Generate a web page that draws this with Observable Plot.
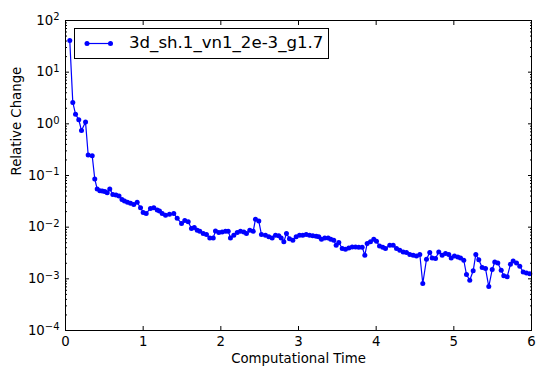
<!DOCTYPE html>
<html><head><meta charset="utf-8">
<script src="https://cdn.jsdelivr.net/npm/d3@7"></script>
<script src="https://cdn.jsdelivr.net/npm/@observablehq/plot@0.6"></script>
<style>
body{margin:0;background:#fff;}
#wrap{position:relative;width:545px;height:380px;font-family:"DejaVu Sans",sans-serif;}
#legend{position:absolute;left:74px;top:28px;width:255px;height:31px;border:1px solid #000;background:#fff;box-sizing:border-box;}
#legend svg{position:absolute;left:0;top:0;}
#legend span{position:absolute;left:54px;top:3px;font-size:16.6px;line-height:22px;color:#000;white-space:nowrap;}
</style></head><body><div id="wrap"></div>
<script>
const seriesName = "3d_sh.1_vn1_2e-3_g1.7";
const xLabel = "Computational Time";
const yLabel = "Relative Change";
const xTicks = [0, 1, 2, 3, 4, 5, 6];
const yTicks = [1e-4, 1e-3, 1e-2, 1e-1, 1e0, 1e1, 1e2];
const time = [0.055,0.094,0.129,0.171,0.206,0.258,0.292,0.344,0.377,0.408,0.442,0.473,0.506,0.537,0.570,0.609,0.650,0.689,0.727,0.760,
0.798,0.837,0.879,0.923,0.966,1.000,1.039,1.094,1.137,1.181,1.210,1.245,1.288,1.339,1.394,1.438,1.494,1.536,1.580,1.622,
1.658,1.696,1.729,1.773,1.815,1.858,1.902,1.931,1.974,2.017,2.060,2.095,2.124,2.167,2.211,2.253,2.296,2.330,2.373,2.417,
2.446,2.489,2.523,2.575,2.618,2.661,2.704,2.746,2.777,2.811,2.845,2.884,2.927,2.970,3.013,3.055,3.099,3.142,3.184,3.228,
3.261,3.296,3.338,3.382,3.416,3.454,3.485,3.519,3.563,3.605,3.648,3.691,3.734,3.776,3.820,3.854,3.884,3.927,3.969,4.004,
4.043,4.085,4.120,4.175,4.219,4.262,4.304,4.348,4.390,4.433,4.477,4.519,4.562,4.600,4.648,4.690,4.721,4.764,4.806,4.850,
4.893,4.935,4.966,5.008,5.051,5.086,5.128,5.163,5.205,5.249,5.283,5.321,5.365,5.408,5.450,5.494,5.527,5.566,5.610,5.643,
5.687,5.729,5.764,5.807,5.849,5.893,5.935,5.978];
const change = [41,2.6,1.54,1.2,0.74,1.08,0.25,0.24,0.0855,0.0547,0.0507,0.050,0.049,0.0464,0.0547,0.0431,0.042,0.040,0.0342,0.032,
0.0302,0.0289,0.0276,0.0302,0.0237,0.0193,0.0184,0.0231,0.0237,0.0214,0.0205,0.0184,0.0171,0.0177,0.0184,0.0148,0.0118,0.0135,0.0127,0.0094,
0.0099,0.00875,0.00836,0.00755,0.00722,0.0062,0.0062,0.0084,0.00789,0.0081,0.00836,0.0083,0.0062,0.0070,0.0079,0.0083,0.0081,0.00755,0.00875,0.0083,
0.0143,0.0131,0.0072,0.0070,0.0065,0.0062,0.0070,0.0068,0.0062,0.0052,0.00755,0.0060,0.0056,0.0065,0.0070,0.0070,0.0072,0.0070,0.0068,0.0067,
0.0065,0.00585,0.0062,0.0062,0.00585,0.0056,0.00447,0.00504,0.00386,0.00374,0.00396,0.00414,0.00414,0.0041,0.0041,0.00286,0.00482,0.0052,0.00585,0.00535,
0.00433,0.0041,0.00386,0.00447,0.00447,0.00386,0.00357,0.00331,0.00323,0.00295,0.00286,0.00277,0.00295,0.00081,0.00239,0.00323,0.00254,0.00247,0.00331,0.00286,
0.00308,0.00295,0.00254,0.00277,0.00265,0.00254,0.00229,0.00121,0.00094,0.00143,0.00297,0.00234,0.00165,0.00158,0.00071,0.00151,0.00212,0.00203,0.00146,0.00115,
0.0011,0.00191,0.00222,0.00203,0.00175,0.00136,0.0013,0.00126];

const expo = d => String(Math.round(Math.log10(d))).replace("-", "\u2212");
const minorTicks = [];
for (let e = -4; e < 2; e++) for (let k = 2; k <= 9; k++) minorTicks.push(k * Math.pow(10, e));

const data = time.map((t, i) => ({t, v: change[i]}));
const blank = () => "";

const chart = Plot.plot({
  width: 545, height: 380,
  marginLeft: 65, marginRight: 14, marginTop: 20, marginBottom: 50,
  style: {fontFamily: '"DejaVu Sans", sans-serif', fontSize: "13.3px", color: "#000", background: "#fff"},
  x: {domain: [0, 6]},
  y: {type: "log", domain: [1e-4, 1e2]},
  marks: [
    Plot.axisX(xTicks, {anchor: "bottom", tickSize: 0, tickPadding: 6, tickFormat: d => String(d), label: null}),
    Plot.axisX(xTicks, {anchor: "bottom", tickSize: -4, tickFormat: blank, label: null}),
    Plot.axisX(xTicks, {anchor: "top", tickSize: -4, tickFormat: blank, label: null}),
    Plot.axisY(yTicks, {anchor: "left", tickSize: 0, tickPadding: 6, tickFormat: expo, label: null}),
    Plot.axisY(yTicks, {anchor: "left", tickSize: -4, tickFormat: blank, label: null}),
    Plot.axisY(yTicks, {anchor: "right", tickSize: -4, tickFormat: blank, label: null}),
    Plot.axisY(minorTicks, {anchor: "left", tickSize: -2, tickFormat: blank, label: null}),
    Plot.axisY(minorTicks, {anchor: "right", tickSize: -2, tickFormat: blank, label: null}),
    Plot.line(data, {x: "t", y: "v", stroke: "#0000ff", strokeWidth: 1.2}),
    Plot.dot(data, {x: "t", y: "v", r: 2.5, fill: "#0000ff", stroke: "none"}),
    Plot.frame({stroke: "#000", strokeWidth: 1}),
    Plot.text([xLabel], {frameAnchor: "bottom", dy: 32, text: d => d, fontSize: 13.3}),
    Plot.text([yLabel], {frameAnchor: "left", dx: -49, rotate: -90, text: d => d, fontSize: 13.3})
  ]
});
// render y tick labels as 10 with a superscript exponent
chart.querySelectorAll('g[aria-label="y-axis tick label"] text').forEach(t => {
  const e = t.textContent;
  if (!e) return;
  t.textContent = "10";
  const ts = document.createElementNS("http://www.w3.org/2000/svg", "tspan");
  ts.setAttribute("dy", "-0.45em");
  ts.setAttribute("font-size", "75%");
  ts.textContent = e;
  t.appendChild(ts);
});
const wrap = document.getElementById("wrap");
wrap.appendChild(chart);
const leg = document.createElement("div");
leg.id = "legend";
leg.innerHTML = '<svg width="50" height="29"><line x1="12" y1="14.5" x2="35.5" y2="14.5" stroke="#0000ff" stroke-width="1.2"/>' +
  '<circle cx="12" cy="14.5" r="2.5" fill="#0000ff"/><circle cx="35.5" cy="14.5" r="2.5" fill="#0000ff"/></svg>';
const sp = document.createElement("span");
sp.textContent = seriesName;
leg.appendChild(sp);
wrap.appendChild(leg);
</script>
</body></html>
